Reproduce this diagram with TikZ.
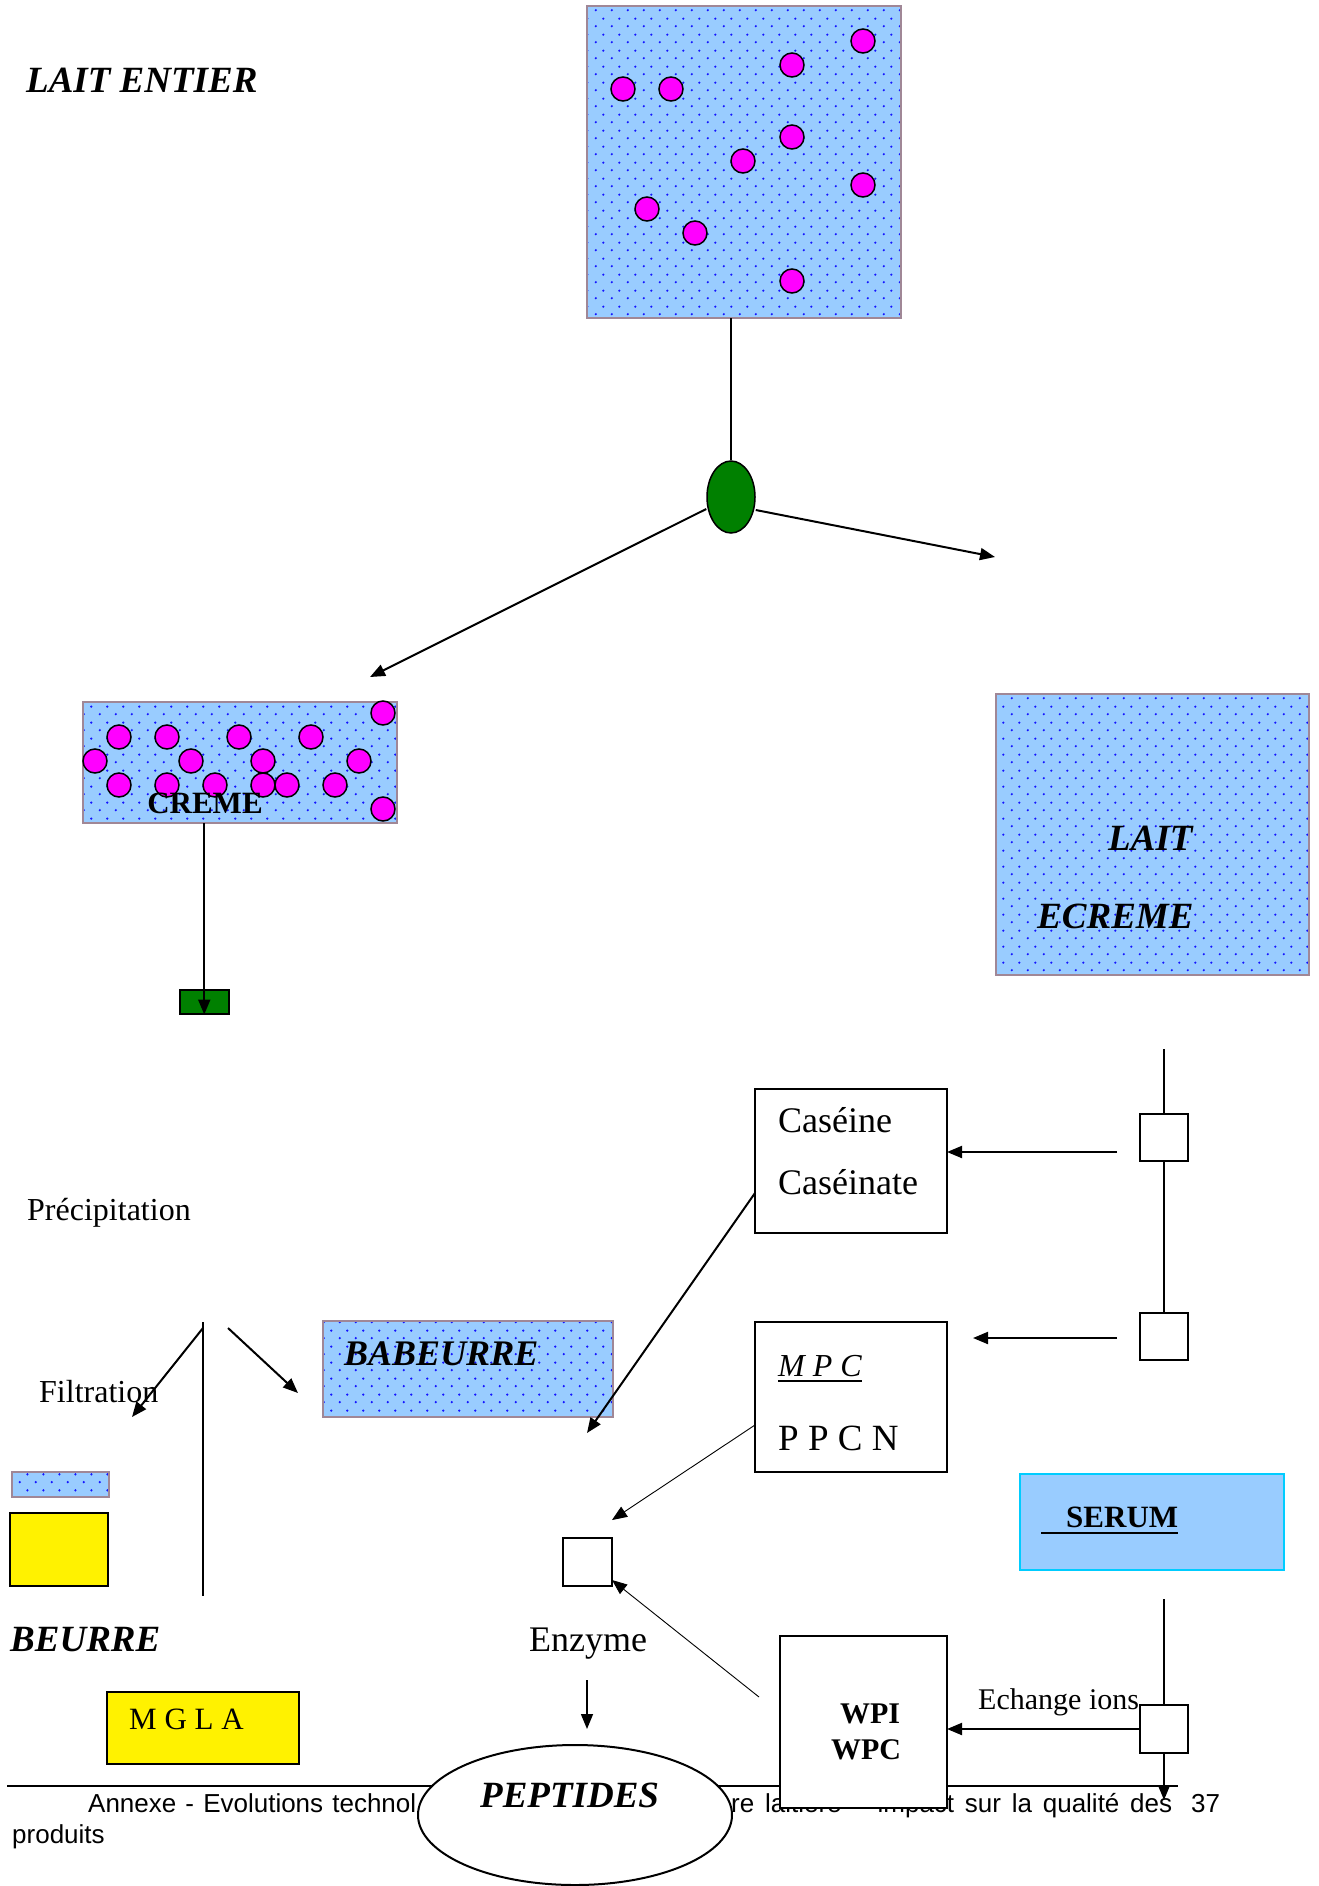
\documentclass[tikz,border=0pt]{standalone}
\usepackage{fontspec}
\setmainfont{Liberation Serif}
\newfontfamily\footfont{Liberation Sans}
\usetikzlibrary{patterns,arrows.meta,calc,shapes.geometric}
\definecolor{milkblue}{RGB}{153,204,255}
\definecolor{dotblue}{RGB}{20,20,255}
\definecolor{pearlpink}{RGB}{255,0,255}
\definecolor{grn}{RGB}{0,128,0}
\definecolor{serumedge}{RGB}{0,204,255}
\definecolor{edgegray}{RGB}{160,135,150}
\pgfdeclarepatternformonly{milkdots}{\pgfqpoint{0pt}{0pt}}{\pgfqpoint{16pt}{16pt}}{\pgfqpoint{16pt}{16pt}}{%
  \pgfpathcircle{\pgfqpoint{4pt}{4pt}}{1.3pt}%
  \pgfpathcircle{\pgfqpoint{12pt}{12pt}}{1.3pt}%
  \pgfusepath{fill}}
\newcommand\fsz[1]{\fontsize{#1pt}{#1pt}\selectfont}
\begin{document}
\begin{tikzpicture}[x=1pt,y=-1pt,
  milk/.style={draw=edgegray, line width=1.2pt, preaction={fill=milkblue}, pattern=milkdots, pattern color=dotblue, inner sep=0pt, outer sep=0pt, anchor=north west},
  pearl/.style={circle, draw=black, line width=1.5pt, fill=pearlpink, minimum size=24pt, inner sep=0pt},
  box/.style={draw=black, line width=2pt, fill=white, inner sep=0pt, outer sep=0pt, anchor=north west},
  lab/.style={inner sep=0pt, anchor=base west},
  arr/.style={line width=2pt, -{Triangle[length=15pt,width=12pt]}},
  thinarr/.style={line width=0.9pt, -{Triangle[length=15pt,width=12pt]}},
  ln/.style={line width=1.8pt},
]
\useasboundingbox[fill=white] (0,0) rectangle (1318,1886);

% footer (under the shapes)
\coordinate (fl1) at (7,1786);
\coordinate (fl2) at (1178,1786);
\draw[line width=2.5pt] (fl1) -- (fl2);
\node[lab, font=\footfont\fsz{26}] (foot1) at (88,1812) {\makebox[328pt][s]{Annexe - Evolutions technol}};
\node[lab, font=\footfont\fsz{26}] (foot2) at (731,1812) {\makebox[441pt][s]{re laitière – impact sur la qualité des}};
\node[lab, font=\footfont\fsz{26}] (foot3) at (1191,1812) {37};
\node[lab, font=\footfont\fsz{26}] (foot4) at (12,1843) {produits};

% LAIT ENTIER
\node[lab, font=\bfseries\itshape\fsz{37}] (whtitle) at (26,93) {LAIT ENTIER};
\node[milk, minimum width=314pt, minimum height=312pt] (whole) at (587,6) {};
\foreach \x/\y [count=\i] in {863/41, 792/65, 623/89, 671/89, 792/137, 743/161, 863/185, 647/209, 695/233, 792/281}
  \node[pearl] (wp\i) at (\x,\y) {};

% separator
\node[ellipse, draw=black, line width=1.5pt, fill=grn, minimum width=48pt, minimum height=72pt, inner sep=0pt] (sep) at (731,497) {};
\draw[line width=2pt] (sep.north |- whole.south) -- (sep.north);
\coordinate (toskim) at (995,557);
\coordinate (tocream) at (370,677);
\draw[arr] ([yshift=-13pt]sep.east) -- (toskim);
\draw[arr] ([yshift=-12pt]sep.west) -- (tocream);

% CREME
\node[milk, minimum width=314pt, minimum height=121pt] (cream) at (83,702) {};
\foreach \x/\y [count=\i] in {383/713, 119/737, 167/737, 239/737, 311/737, 95/761, 191/761, 263/761, 359/761, 119/785, 167/785, 215/785, 263/785, 287/785, 335/785, 383/809}
  \node[pearl] (cp\i) at (\x,\y) {};
\node[inner sep=0pt, anchor=base, font=\bfseries\fsz{31}] (cremetxt) at (205,813) {CREME};
\node[draw=black, line width=1.5pt, fill=grn, minimum width=49pt, minimum height=24pt, inner sep=0pt, anchor=north west] (butterbox) at (179,989) {};
\draw[arr] (butterbox.north |- cream.south) -- (butterbox.south);

% LAIT ECREME
\node[milk, minimum width=313pt, minimum height=281pt] (skim) at (996,694) {};
\node[lab, font=\bfseries\itshape\fsz{37}] (sk1) at (1108,850) {LAIT};
\node[lab, font=\bfseries\itshape\fsz{37}] (sk2) at (1037,928) {ECREME};

% right column
\coordinate (colTop) at (1164,1049);
\node[box, minimum width=48pt, minimum height=47pt] (f1) at (1140,1114) {};
\node[box, minimum width=48pt, minimum height=47pt] (f2) at (1140,1313) {};
\draw[ln] (colTop) -- (f1.north);
\draw[ln] (f1) -- (f2);

% Caseine
\node[box, minimum width=192pt, minimum height=144pt] (cas) at (755,1089) {};
\node[lab, font=\fsz{36}] (cas1) at (778,1132) {Caséine};
\node[lab, font=\fsz{36}] (cas2) at (778,1194) {Caséinate};
\coordinate (a1) at (1117,1152);
\draw[arr] (a1) -- (a1 -| cas.east);

% MPC
\node[box, minimum width=192pt, minimum height=150pt] (mpc) at (755,1322) {};
\node[lab, font=\itshape\fsz{32}] (mpcl) at (778,1376) {M P C};
\draw[line width=2.2pt] ([yshift=-5pt]mpcl.base west) -- ([yshift=-5pt]mpcl.base east);
\node[lab, font=\fsz{37}] (ppcn) at (778,1450) {P P C N};
\coordinate (a2) at (1117,1338);
\coordinate (a2end) at (973,1338);
\draw[arr] (a2) -- (a2end);

% precipitation / filtration
\node[lab, font=\fsz{32}] (prec) at (27,1220) {Précipitation};
\node[lab, font=\fsz{32}] (filt) at (39,1402) {Filtration};
\coordinate (spTop) at (203,1322);
\coordinate (spBot) at (203,1596);
\draw[ln] (spTop) -- (spBot);
\coordinate (flS) at (203,1328);
\coordinate (flE) at (132,1417);
\draw[arr] (flS) -- (flE);
\coordinate (frS) at (228,1328);
\coordinate (frE) at (298,1393);
\draw[arr] (frS) -- (frE);

% babeurre
\node[milk, minimum width=290pt, minimum height=96pt] (bab) at (323,1321) {};
\node[lab, font=\bfseries\itshape\fsz{36}] (babt) at (344,1365) {BABEURRE};

% to babeurre (drawn over the box)
\coordinate (babin) at (587,1433);
\draw[arr] ([yshift=-32pt]cas.west) -- (babin);

% beurre pieces
\node[milk, minimum width=97pt, minimum height=25pt] (crm2) at (12,1472) {};
\node[box, fill=yellow, minimum width=98pt, minimum height=73pt] (but) at (10,1513) {};
\node[lab, font=\bfseries\itshape\fsz{37}] (beurre) at (10,1651) {BEURRE};
\node[box, fill=yellow, minimum width=192pt, minimum height=72pt] (mgla) at (107,1692) {};
\node[lab, font=\fsz{31}] (mglat) at (129,1729) {M G L A};

% enzyme
\node[box, minimum width=49pt, minimum height=48pt] (enz) at (563,1538) {};
\draw[thinarr] ([yshift=-28pt]mpc.west) -- ([yshift=18pt]enz.north east);
\node[lab, font=\fsz{36}] (enzt) at (529,1651) {Enzyme};
\coordinate (eS) at (587,1680);
\coordinate (eE) at (587,1729);
\draw[line width=1.5pt, -{Triangle[length=15pt,width=12pt]}] (eS) -- (eE);

% serum
\node[draw=serumedge, line width=2pt, fill=milkblue, minimum width=264pt, minimum height=96pt, anchor=north west, inner sep=0pt] (serum) at (1019,1473) {};
\node[lab, font=\bfseries\fsz{31}] (sertxt) at (1066,1527) {SERUM};
\draw[line width=2.2pt] ([xshift=-25pt,yshift=-6pt]sertxt.base west) -- ([yshift=-6pt]sertxt.base east);

\coordinate (colB) at (1164,1599);
\coordinate (colEnd) at (1164,1800);
\draw[ln, -{Triangle[length=15pt,width=12pt]}] (colB) -- (colEnd);
\node[lab, font=\fsz{30}] (ech) at (978,1709) {Echange ions};
\node[box, minimum width=48pt, minimum height=48pt] (f3) at (1140,1705) {};

% WPI
\node[box, minimum width=167pt, minimum height=172pt] (wpi) at (780,1636) {};
\node[inner sep=0pt, anchor=base, font=\bfseries\fsz{30}] (wpit) at (870,1723) {WPI};
\node[inner sep=0pt, anchor=base, font=\bfseries\fsz{30}] (wpct) at (866,1759) {WPC};
\draw[arr] (f3.west) -- (f3.west -| wpi.east);
\coordinate (wS) at (759,1697);
\draw[thinarr] (wS) -- ([yshift=6pt]enz.south east);

% peptides
\node[ellipse, draw=black, line width=2pt, fill=white, minimum width=314pt, minimum height=140pt, inner sep=0pt] (pep) at (575,1815) {};
\node[lab, font=\bfseries\itshape\fsz{37}] (pept) at (480,1807) {PEPTIDES};
\end{tikzpicture}
\end{document}
